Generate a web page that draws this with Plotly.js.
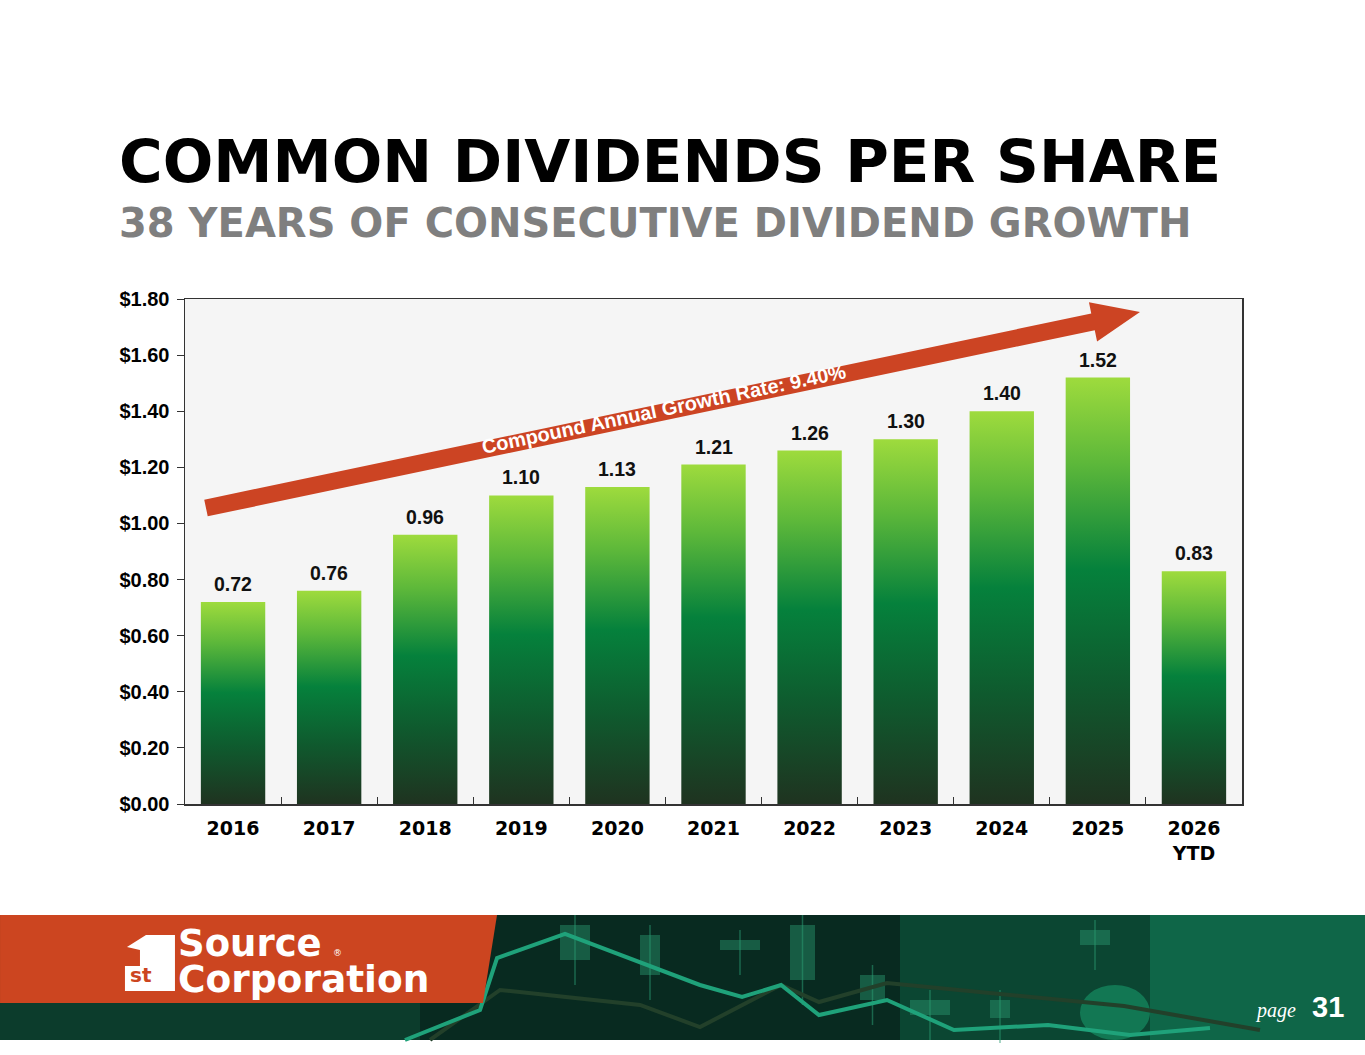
<!DOCTYPE html>
<html>
<head>
<meta charset="utf-8">
<script src="https://cdn.plot.ly/plotly-3.0.1.min.js"></script>
<style>
  html, body { margin: 0; padding: 0; background: #fff; }
  #chart { width: 1365px; height: 1055px; }
</style>
</head>
<body>
<div id="chart"></div>
<script>
// chart data
var years     = ['2016', '2017', '2018', '2019', '2020', '2021', '2022', '2023', '2024', '2025', '2026'];
var yearTicks = ['2016', '2017', '2018', '2019', '2020', '2021', '2022', '2023', '2024', '2025', '2026<br>YTD'];
var dividends = [0.72, 0.76, 0.96, 1.10, 1.13, 1.21, 1.26, 1.30, 1.40, 1.52, 0.83];
var yTicks    = [0, 0.2, 0.4, 0.6, 0.8, 1.0, 1.2, 1.4, 1.6, 1.8];

var cagrText  = 'Compound Annual Growth Rate: 9.40%';

// plot box in page pixels, used to place decorations in paper coords
var L = 185, R = 1242, T = 299, B = 804;
function px(x) { return (x - L) / (R - L); }
function py(y) { return (B - y) / (B - T); }

var orange = '#cc4423';
var bold   = 'Liberation Sans, Arial, sans-serif';
var wide   = 'DejaVu Sans, Verdana, sans-serif';

function linePath(pts, close) {
    // pts are page pixels -> paper coords path
    var s = '';
    for (var i = 0; i < pts.length; ++i) {
        s += (i === 0 ? 'M' : 'L') + px(pts[i][0]).toFixed(4) + ',' + py(pts[i][1]).toFixed(4);
    }
    return close ? s + 'Z' : s;
}

// growth arrow: tail centre, tip, shaft & head size
function arrowPoints(tail, tip, halfShaft, halfHead, headLen) {
    var dx = tip[0] - tail[0], dy = tip[1] - tail[1];
    var len = Math.sqrt(dx * dx + dy * dy);
    var u = [dx / len, dy / len];
    var n = [-u[1], u[0]];
    var b = [tip[0] - headLen * u[0], tip[1] - headLen * u[1]];
    function off(p, k) { return [p[0] + k * n[0], p[1] + k * n[1]]; }
    return [off(tail, -halfShaft), off(b, -halfShaft), off(b, -halfHead), tip,
            off(b, halfHead), off(b, halfShaft), off(tail, halfShaft)];
}

var arrowTail = [206, 508], arrowTip = [1140, 312];
var arrowAngle = Math.atan2(arrowTip[1] - arrowTail[1], arrowTip[0] - arrowTail[0]) * 180 / Math.PI;

var shapes = [];
function box(x0, y0, x1, y1, color, op) {
    shapes.push({ type: 'rect', xref: 'paper', yref: 'paper', x0: px(x0), x1: px(x1), y0: py(y1), y1: py(y0),
                  fillcolor: color, opacity: op, line: { width: 0 }, layer: 'above' });
}

// footer band
box(0, 915, 1365, 1040, '#082a20', 1);
box(900, 915, 1365, 1040, '#0e6244', 0.5);
box(1150, 915, 1365, 1040, '#17966a', 0.4);
box(0, 1000, 420, 1040, '#0f4a36', 0.6);
shapes.push({ type: 'circle', xref: 'paper', yref: 'paper', x0: px(1080), x1: px(1150), y0: py(1040), y1: py(985),
              fillcolor: '#19a874', opacity: 0.5, line: { width: 0 }, layer: 'above' });

// candle sticks in the footer
var candles = [[560, 925, 590, 960], [640, 935, 660, 975], [720, 940, 760, 950], [790, 925, 815, 980],
               [860, 975, 885, 1000], [910, 1000, 950, 1015], [990, 1000, 1010, 1018], [1080, 930, 1110, 945]];
for (var i = 0; i < candles.length; ++i) {
    var c = candles[i];
    box(c[0], c[1], c[2], c[3], '#2a9a70', 0.45);
    shapes.push({ type: 'line', xref: 'paper', yref: 'paper', x0: px((c[0] + c[2]) / 2), x1: px((c[0] + c[2]) / 2),
                  y0: py(c[3] + 25), y1: py(c[1] - 10), line: { color: '#2a9a70', width: 1.5 }, opacity: 0.55, layer: 'above' });
}

// chart lines in the footer
shapes.push({ type: 'path', xref: 'paper', yref: 'paper', layer: 'above',
              path: linePath([[430, 1040], [500, 990], [640, 1005], [700, 1027], [781, 985], [819, 1002], [887, 983], [1124, 1006], [1260, 1030]]),
              line: { color: '#22402a', width: 4 } });
shapes.push({ type: 'path', xref: 'paper', yref: 'paper', layer: 'above',
              path: linePath([[405, 1040], [480, 1010], [497, 958], [565, 934], [700, 985], [742, 997], [781, 985], [819, 1015], [887, 1000], [954, 1030], [1048, 1025], [1130, 1035], [1210, 1028]]),
              line: { color: '#1fa27a', width: 4 } });

// orange logo block
shapes.push({ type: 'path', xref: 'paper', yref: 'paper', layer: 'above',
              path: linePath([[0, 915], [497, 915], [483, 1003], [0, 1003]], true),
              fillcolor: '#cc4520', line: { width: 0 } });
// the "1" of the logo
shapes.push({ type: 'path', xref: 'paper', yref: 'paper', layer: 'above',
              path: linePath([[127, 947], [146, 935], [175, 935], [175, 991], [125, 991], [125, 966], [140, 966], [140, 950]], true),
              fillcolor: '#ffffff', line: { width: 0 } });

// growth arrow
shapes.push({ type: 'path', xref: 'paper', yref: 'paper', layer: 'above',
              path: linePath(arrowPoints(arrowTail, arrowTip, 8.5, 20, 48), true),
              fillcolor: orange, line: { width: 0 } });

var annotations = [];

// value labels over the bars (x given as category index)
for (var i = 0; i < years.length; ++i) {
    annotations.push({ x: i, y: dividends[i], xref: 'x', yref: 'y', text: dividends[i].toFixed(2),
                       showarrow: false, yanchor: 'bottom', yshift: 5,
                       font: { family: bold, size: 19.5, color: '#111', weight: 'bold' } });
}

// title & subtitle
annotations.push({ xref: 'paper', yref: 'paper', x: px(117), y: py(161), xanchor: 'left', yanchor: 'middle',
                   text: 'COMMON DIVIDENDS PER SHARE', showarrow: false,
                   font: { family: wide, size: 59.5, color: '#000', weight: 'bold' } });
annotations.push({ xref: 'paper', yref: 'paper', x: px(117), y: py(223), xanchor: 'left', yanchor: 'middle',
                   text: '38 YEARS OF CONSECUTIVE DIVIDEND GROWTH', showarrow: false,
                   font: { family: wide, size: 40, color: '#7f7f7f', weight: 'bold' } });

// text along the arrow
annotations.push({ xref: 'paper', yref: 'paper', x: px(664), y: py(409), xanchor: 'center', yanchor: 'middle',
                   text: cagrText, showarrow: false, textangle: arrowAngle,
                   font: { family: 'Liberation Sans Narrow, Arial Narrow, Liberation Sans, sans-serif', size: 20, color: '#fff', weight: 'bold' } });

// logo words
annotations.push({ xref: 'paper', yref: 'paper', x: px(176), y: py(943), xanchor: 'left', yanchor: 'middle',
                   text: 'Source', showarrow: false,
                   font: { family: wide, size: 37, color: '#fff', weight: 'bold' } });
annotations.push({ xref: 'paper', yref: 'paper', x: px(331), y: py(953), xanchor: 'left', yanchor: 'middle',
                   text: '®', showarrow: false,
                   font: { family: wide, size: 9, color: '#fff' } });
annotations.push({ xref: 'paper', yref: 'paper', x: px(176), y: py(979), xanchor: 'left', yanchor: 'middle',
                   text: 'Corporation', showarrow: false,
                   font: { family: wide, size: 37.5, color: '#fff', weight: 'bold' } });
annotations.push({ xref: 'paper', yref: 'paper', x: px(141), y: py(975), xanchor: 'center', yanchor: 'middle',
                   text: 'st', showarrow: false,
                   font: { family: wide, size: 20, color: '#cc4520', weight: 'bold' } });

// page number
annotations.push({ xref: 'paper', yref: 'paper', x: px(1298), y: py(1010), xanchor: 'right', yanchor: 'middle',
                   text: '<i>page</i>', showarrow: false,
                   font: { family: 'Liberation Serif, Times New Roman, serif', size: 20, color: '#fff' } });
annotations.push({ xref: 'paper', yref: 'paper', x: px(1346), y: py(1007), xanchor: 'right', yanchor: 'middle',
                   text: '31', showarrow: false,
                   font: { family: bold, size: 29, color: '#fff', weight: 'bold' } });

var trace = {
    x: years,
    y: dividends,
    type: 'bar',
    marker: { color: '#0a8a3e', line: { width: 0 } },
    hoverinfo: 'skip',
    showlegend: false
};

var layout = {
    width: 1365,
    height: 1055,
    margin: { l: L, r: 1365 - R, t: T, b: 1055 - B, pad: 0 },
    paper_bgcolor: '#ffffff',
    plot_bgcolor: '#f5f5f5',
    bargap: 0.33,
    showlegend: false,
    xaxis: {
        type: 'category',
        range: [-0.5, years.length - 0.5],
        autorange: false,
        tickvals: years,
        ticktext: yearTicks,
        ticks: 'inside',
        tickson: 'boundaries',
        ticklen: 7,
        tickcolor: '#333',
        ticklabelstandoff: 7,
        showline: true,
        linecolor: '#333',
        linewidth: 1.5,
        mirror: true,
        showgrid: false,
        tickfont: { family: wide, size: 19, color: '#000', weight: 'bold' }
    },
    yaxis: {
        range: [0, 1.8],
        autorange: false,
        tickvals: yTicks,
        tickformat: '$.2f',
        ticks: 'outside',
        ticklen: 7,
        tickcolor: '#333',
        ticklabelstandoff: 3,
        showline: true,
        linecolor: '#333',
        linewidth: 1.5,
        mirror: true,
        showgrid: false,
        zeroline: false,
        tickfont: { family: bold, size: 20, color: '#000', weight: 'bold' }
    },
    shapes: shapes,
    annotations: annotations
};

Plotly.newPlot('chart', [trace], layout, { staticPlot: true }).then(function (gd) {
    // vertical light-to-dark green fill on every bar
    var svg = gd.querySelector('svg.main-svg');
    var ns = 'http://www.w3.org/2000/svg';
    var defs = svg.querySelector('defs');
    var grad = document.createElementNS(ns, 'linearGradient');
    grad.setAttribute('id', 'barFade');
    grad.setAttribute('x1', '0'); grad.setAttribute('y1', '0');
    grad.setAttribute('x2', '0'); grad.setAttribute('y2', '1');
    var stops = [[0, '#9edb3d'], [0.2, '#5db83a'], [0.45, '#05813c'], [0.72, '#0f5a2e'], [1, '#1f3320']];
    stops.forEach(function (s) {
        var st = document.createElementNS(ns, 'stop');
        st.setAttribute('offset', s[0]);
        st.setAttribute('stop-color', s[1]);
        grad.appendChild(st);
    });
    defs.appendChild(grad);
    gd.querySelectorAll('.barlayer .point path').forEach(function (p) {
        p.style.fill = 'url(#barFade)';
    });
});
</script>
</body>
</html>
